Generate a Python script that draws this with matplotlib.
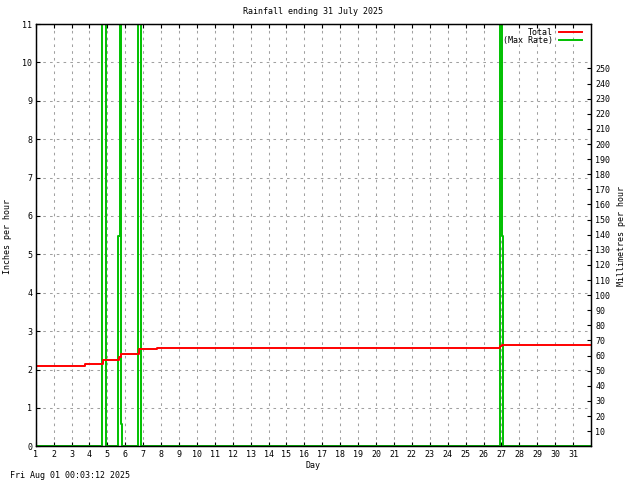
import matplotlib
matplotlib.use("Agg")
import matplotlib.pyplot as plt
import numpy as np

# ---- data ----
days = list(range(1, 32))
inch_ticks = list(range(0, 12))
mm_ticks = list(range(10, 260, 10))

total_days = [1, 3.75, 4.78, 5.65, 5.75, 6.79, 7.79, 26.94, 27.05, 32]
total_vals = [2.09, 2.14, 2.24, 2.32, 2.40, 2.53, 2.55, 2.61, 2.63, 2.63]

rate_days = [1, 4.72, 4.91, 5.61, 5.69, 5.75, 5.79, 6.73, 6.90, 26.92, 27.02, 27.06, 32]
rate_vals = [0, 15, 0, 5.49, 15, 0.59, 0, 15, 0, 15, 5.49, 0, 0]

series_names = ["Total", "(Max Rate)"]
series_colors = ["#ff0000", "#00c000"]

title = "Rainfall ending 31 July 2025"
stamp = "Fri Aug 01 00:03:12 2025"

FONT = "DejaVu Sans Mono"
FS = 6.0
plt.rcParams['font.family'] = FONT

W, H = 640, 480
fig = plt.figure(figsize=(6.4, 4.8), dpi=100)
L, R, T, B = 35.7, 591, 24, 446.3
ax = fig.add_axes([L / W, 1 - B / H, (R - L) / W, (B - T) / H])

ax.plot(rate_days, rate_vals, drawstyle="steps-post", color=series_colors[1],
        lw=1.4, zorder=2)
ax.plot(total_days, total_vals, drawstyle="steps-post", color=series_colors[0],
        lw=1.4, zorder=3)

ax.set_xlim(1, 32)
ax.set_ylim(0, 11)
ax.set_xticks(days)
ax.set_xticklabels([str(d) for d in days], fontsize=FS)
ax.set_yticks(inch_ticks)
ax.set_yticklabels([str(v) for v in inch_ticks], fontsize=FS)
ax.tick_params(direction="in", length=3.2, width=0.8, top=True, right=True,
               pad=2.5, colors="black")
ax.grid(True, color="#a0a0a0", lw=0.75, linestyle=(0, (2.5, 4)))
for s in ax.spines.values():
    s.set_linewidth(0.9)
    s.set_zorder(5)

ax2 = ax.twinx()
ax2.set_ylim(0, 11 * 25.4)
ax2.set_yticks(mm_ticks)
ax2.set_yticklabels([str(v) for v in mm_ticks], fontsize=FS)
ax2.tick_params(direction="in", length=3.2, width=0.8, left=False, right=True,
                pad=3)
for s in ax2.spines.values():
    s.set_linewidth(0.9)

# legend (gnuplot style, text right-aligned)
for i, (name, col) in enumerate(zip(series_names, series_colors)):
    yy = 32.3 + i * 7.8
    fig.text(553 / W, 1 - yy / H, name, ha="right", va="center", fontsize=FS)
    fig.add_artist(plt.Line2D([559 / W, 582 / W], [1 - yy / H, 1 - yy / H],
                              color=col, lw=1.4, transform=fig.transFigure))

fig.text(313 / W, 1 - 12 / H, title, ha="center", va="center", fontsize=FS)
fig.text(313 / W, 1 - 466 / H, "Day", ha="center", va="center", fontsize=FS)
fig.text(8 / W, 1 - 236 / H, "Inches per hour", ha="center", va="center",
         rotation=90, fontsize=FS)
fig.text(622 / W, 1 - 236 / H, "Millimetres per hour", ha="center", va="center",
         rotation=90, fontsize=FS)
fig.text(10 / W, 1 - 475 / H, stamp, ha="left", va="center", fontsize=FS)

fig.savefig("out.png", dpi=100)
